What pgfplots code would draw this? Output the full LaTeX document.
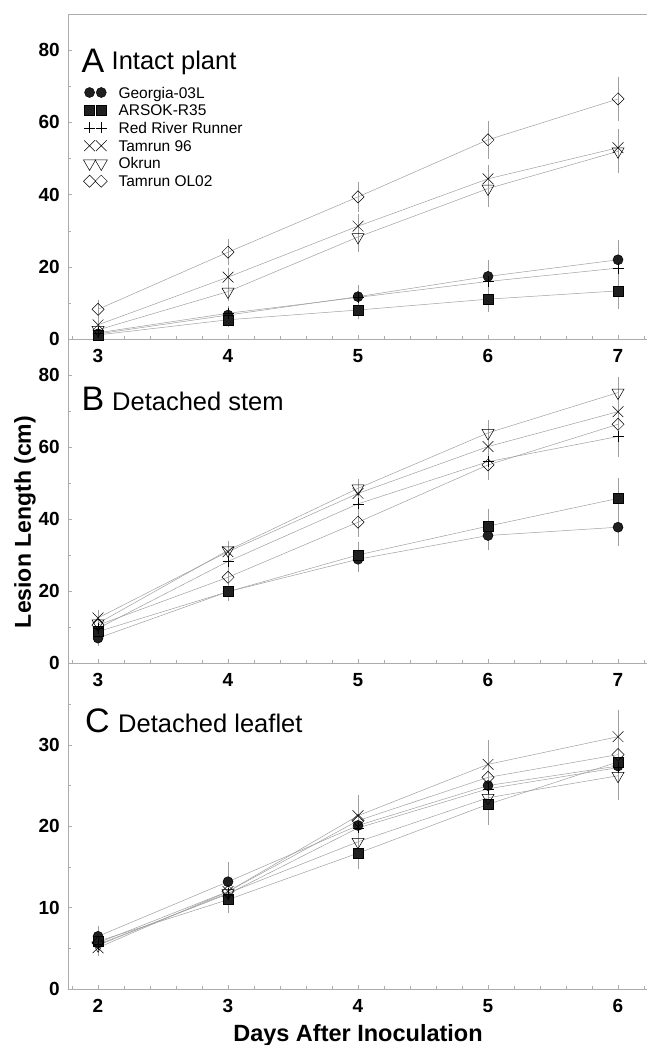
\documentclass[border=0pt]{standalone}
\usepackage{pgfplots}
\usepackage{pgfplotstable}
\usepackage{fontspec}
\setmainfont{Liberation Sans}
\pgfplotsset{compat=1.18}

% lesion length (cm) and error per cultivar
% g Georgia-03L, a ARSOK-R35, r Red River Runner, t Tamrun 96, o Okrun, d Tamrun OL02
\pgfplotstableread{
day g ge a ae r re t te o oe d de
3 1.5 0.5 1.2 0.5 1.8 0.5 4.0 1.0 2.6 1.0 8.3 1.5
4 6.7 1.5 5.4 1.0 7.2 1.0 17.2 1.5 13.2 1.5 24.1 2.5
5 11.8 2.0 8.1 1.5 11.6 2.0 31.3 2.3 28.3 3.0 39.4 3.0
6 17.4 3.5 11.1 2.5 16.0 2.5 44.4 2.6 41.7 4.0 55.2 4.2
7 22.0 4.3 13.4 3.8 19.7 3.0 53.0 4.2 52.0 5.0 66.5 5.0
}\dataA
\pgfplotstableread{
day g ge a ae r re t te o oe d de
3 7.0 1.0 8.8 1.0 9.7 1.0 12.6 1.0 11.1 1.0 10.6 1.0
4 19.9 1.5 19.9 1.5 28.3 3.0 31.0 1.5 31.4 1.5 23.9 2.0
5 28.9 2.5 30.1 2.5 44.3 3.0 47.2 2.0 48.6 1.5 39.2 3.0
6 35.5 3.0 38.1 3.7 56.0 4.0 60.2 3.0 64.0 2.5 55.1 3.0
7 37.8 4.0 45.8 4.5 63.0 4.6 69.9 3.0 75.2 3.3 66.4 3.0
}\dataB
\pgfplotstableread{
day g ge a ae r re t te o oe d de
2 6.5 0.8 5.9 0.8 5.5 0.7 5.1 0.5 5.4 0.5 5.7 0.6
3 13.2 1.9 11.0 1.2 11.7 1.0 12.0 1.0 11.8 1.0 12.0 1.0
4 20.1 1.5 16.7 1.5 19.8 2.0 21.3 2.0 18.1 1.5 20.7 2.0
5 25.0 2.0 22.7 2.0 24.6 2.0 27.6 2.5 23.5 2.5 26.0 2.0
6 27.4 2.0 27.9 2.0 27.2 2.0 31.0 2.8 26.2 2.5 28.8 2.0
}\dataC

\pgfplotsset{
  panel/.style={
    scale only axis, width=579pt,
    axis x line*=bottom, axis y line*=left,
    axis line style={gray!65, line width=0.8pt},
    tick align=inside, tick style={gray!65, line width=0.6pt},
    major tick length=4pt, minor tick length=3pt,
    ymin=0,
    /pgf/number format/assume math mode=true,
    ticklabel style={font=\fontsize{19}{19}\selectfont\bfseries},
    xticklabel style={inner sep=0pt, yshift=-10pt},
    yticklabel style={inner sep=0pt, xshift=-8pt},
  },
  ser/.style={gray!75, line width=0.5pt,
    error bars/y dir=both, error bars/y explicit,
    error bars/error bar style={gray!75, line width=0.5pt},
    error bars/error mark options={gray!75, mark size=4pt, line width=0.5pt}},
  sg/.style={ser, mark=*, mark size=5pt,
    mark options={draw=black, fill=black!88, solid, line width=0.5pt}},
  sa/.style={ser, mark=square*, mark size=5pt,
    mark options={draw=black, fill=black!88, solid, line width=0.5pt}},
  sr/.style={ser, mark=+, mark size=5.5pt,
    mark options={draw=black, solid, line width=0.5pt}},
  st/.style={ser, mark=x, mark size=7.6pt,
    mark options={draw=black, solid, line width=0.5pt}},
  so/.style={ser, mark=triangle, mark size=7pt,
    mark options={draw=black, fill=white, rotate=180, solid, line width=0.5pt}},
  sd/.style={ser, mark=square, mark size=4.3pt,
    mark options={draw=black, fill=white, rotate=45, solid, line width=0.5pt}},
}

\begin{document}
\begin{tikzpicture}
\useasboundingbox (0,0) rectangle (647pt,1045pt);

% A: intact plant
\begin{axis}[panel, at={(68pt,705.7pt)}, anchor=south west, height=325.3pt,
  xmin=2.769, xmax=7.223, ymax=90,
  xtick={3,4,5,6,7}, minor xtick={2.8,3.0,...,7.21},
  ytick={0,20,40,60,80}, minor ytick={10,30,50,70},
  legend style={at={(0.0264,0.7808)}, anchor=north west, draw=none, fill=none,
    inner sep=0pt, row sep=3.74pt, font=\fontsize{15.5}{15.5}\selectfont,
    nodes={inner sep=0pt, text height=12.5pt, text depth=1.5pt}},
  legend cell align=left,
  legend image code/.code={\path[draw=none, fill=none] (-5pt,-5pt) rectangle (29pt,5pt);
    \draw[#1] plot[only marks] coordinates {(0pt,0pt) (11.7pt,0pt)};}]
\addplot[sg] table[x=day, y=g, y error=ge] {\dataA};
\addlegendentry{Georgia-03L}
\addplot[sa] table[x=day, y=a, y error=ae] {\dataA};
\addlegendentry{ARSOK-R35}
\addplot[sr] table[x=day, y=r, y error=re] {\dataA};
\addlegendentry{Red River Runner}
\addplot[st] table[x=day, y=t, y error=te] {\dataA};
\addlegendentry{Tamrun 96}
\addplot[so] table[x=day, y=o, y error=oe] {\dataA};
\addlegendentry{Okrun}
\addplot[sd] table[x=day, y=d, y error=de] {\dataA};
\addlegendentry{Tamrun OL02}
\end{axis}
\draw[gray!65, line width=0.8pt] (68pt,1031pt) -- (647pt,1031pt);

% B: detached stem
\begin{axis}[panel, at={(68pt,381.7pt)}, anchor=south west, height=324pt,
  xmin=2.769, xmax=7.223, ymax=90,
  xtick={3,4,5,6,7}, minor xtick={2.8,3.0,...,7.21},
  ytick={0,20,40,60,80}, minor ytick={10,30,50,70}]
\addplot[sg] table[x=day, y=g, y error=ge] {\dataB};
\addplot[sa] table[x=day, y=a, y error=ae] {\dataB};
\addplot[sr] table[x=day, y=r, y error=re] {\dataB};
\addplot[st] table[x=day, y=t, y error=te] {\dataB};
\addplot[so] table[x=day, y=o, y error=oe] {\dataB};
\addplot[sd] table[x=day, y=d, y error=de] {\dataB};
\end{axis}

% C: detached leaflet
\begin{axis}[panel, at={(68pt,55.7pt)}, anchor=south west, height=326pt,
  xmin=1.769, xmax=6.223, ymax=40,
  xtick={2,3,4,5,6}, minor xtick={1.8,2.0,...,6.21},
  ytick={0,10,20,30}, minor ytick={5,15,25,35}]
\addplot[sg] table[x=day, y=g, y error=ge] {\dataC};
\addplot[sa] table[x=day, y=a, y error=ae] {\dataC};
\addplot[sr] table[x=day, y=r, y error=re] {\dataC};
\addplot[st] table[x=day, y=t, y error=te] {\dataC};
\addplot[so] table[x=day, y=o, y error=oe] {\dataC};
\addplot[sd] table[x=day, y=d, y error=de] {\dataC};
\end{axis}

% panel titles
\node[anchor=base west, inner sep=0pt, font=\fontsize{34}{34}\selectfont] at (81.5pt,972.3pt) {A};
\node[anchor=base west, inner sep=0pt, font=\fontsize{25.5}{25.5}\selectfont] at (111.5pt,975pt) {Intact plant};
\node[anchor=base west, inner sep=0pt, font=\fontsize{34}{34}\selectfont] at (81.5pt,634.3pt) {B};
\node[anchor=base west, inner sep=0pt, font=\fontsize{25.5}{25.5}\selectfont] at (112pt,634.3pt) {Detached stem};
\node[anchor=base west, inner sep=0pt, font=\fontsize{34}{34}\selectfont] at (85pt,312pt) {C};
\node[anchor=base west, inner sep=0pt, font=\fontsize{25.5}{25.5}\selectfont] at (118pt,312pt) {Detached leaflet};

% axis titles
\node[rotate=90, inner sep=0pt, font=\fontsize{23}{23}\selectfont\bfseries] at (25pt,523pt) {Lesion Length (cm)};
\node[anchor=base, inner sep=0pt, font=\fontsize{23.5}{23.5}\selectfont\bfseries] at (358pt,3pt) {Days After Inoculation};
\end{tikzpicture}
\end{document}
